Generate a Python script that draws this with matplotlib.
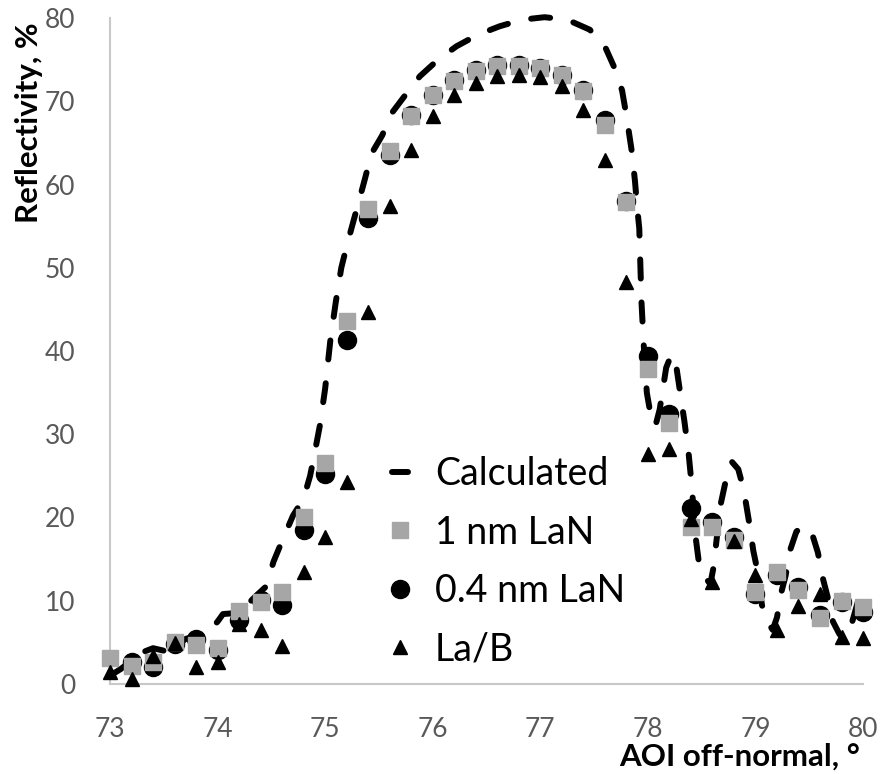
import matplotlib.pyplot as plt
from matplotlib.lines import Line2D
import numpy as np

# angle of incidence, degrees
aoi = [73.0, 73.2, 73.4, 73.6, 73.8, 74.0, 74.2, 74.4, 74.6, 74.8, 75.0, 75.2,
       75.4, 75.6, 75.8, 76.0, 76.2, 76.4, 76.6, 76.8, 77.0, 77.2, 77.4, 77.6,
       77.8, 78.0, 78.2, 78.4, 78.6, 78.8, 79.0, 79.2, 79.4, 79.6, 79.8, 80.0]

lan_1nm = [3.1, 2.2, 2.7, 5.0, 4.7, 4.3, 8.8, 9.8, 11.1, 20.1, 26.6, 43.6,
           57.1, 64.0, 68.2, 70.7, 72.4, 73.6, 74.2, 74.2, 74.0, 73.1, 71.2, 67.1,
           57.9, 37.8, 31.4, 18.8, 18.9, 17.3, 11.0, 13.4, 11.3, 7.9, 10.0, 9.2]

lan_04nm = [np.nan, 2.6, 2.0, 4.8, 5.4, 4.1, 7.7, 10.1, 9.5, 18.5, 25.2, 41.3,
            56.0, 63.5, 68.3, 70.8, 72.5, 73.7, 74.3, 74.3, 74.0, 73.2, 71.3, 67.7,
            58.0, 39.4, 32.4, 21.2, 19.4, 17.7, 10.8, 13.1, 11.7, 8.3, 9.9, 8.7]

la_b = [1.4, 0.6, 3.4, 4.9, 2.0, 2.7, 7.2, 6.5, 4.6, 13.5, 17.7, 24.3,
        44.7, 57.4, 64.1, 68.2, 70.7, 72.2, 73.0, 73.1, 72.9, 71.8, 68.9, 62.9,
        48.3, 27.6, 28.2, 19.8, 12.3, 17.2, 13.1, 6.5, 9.4, 10.8, 5.6, 5.5]

# calculated curve
calc_x = [73.0, 73.1, 73.2, 73.3, 73.4, 73.5, 73.56, 73.62, 73.7, 73.8, 73.9, 74.0,
          74.05, 74.15, 74.25, 74.35, 74.45, 74.52, 74.6, 74.7, 74.8, 74.86, 74.9,
          74.95, 75.0, 75.05, 75.1, 75.15, 75.2, 75.25, 75.32, 75.37, 75.43, 75.53,
          75.62, 75.76, 75.88, 76.05, 76.22, 76.42, 76.62, 76.83, 77.04, 77.25,
          77.46, 77.6, 77.69, 77.76, 77.8, 77.85, 77.88, 77.9, 77.92, 77.94, 77.96,
          77.99, 78.03, 78.07, 78.11, 78.14, 78.17, 78.22, 78.26, 78.3, 78.34,
          78.38, 78.41, 78.44, 78.47, 78.52, 78.58, 78.61, 78.64, 78.68, 78.72,
          78.78, 78.84, 78.89, 78.94, 78.98, 79.02, 79.06, 79.11, 79.16, 79.2,
          79.24, 79.28, 79.32, 79.38, 79.44, 79.52, 79.58, 79.63, 79.67, 79.72,
          79.78, 79.83, 79.9, 79.95, 80.0]
calc_y = [1.0, 1.8, 2.8, 3.8, 4.3, 4.0, 3.5, 4.5, 5.4, 5.8, 6.1, 7.5,
          8.4, 8.5, 9.2, 10.5, 11.7, 14.7, 17.2, 20.2, 22.3, 25.0, 27.6,
          31.0, 35.5, 41.5, 46.0, 50.0, 52.6, 55.0, 58.3, 60.7, 63.7, 65.9,
          68.6, 71.0, 73.0, 75.0, 76.6, 78.0, 79.0, 79.8, 80.1, 79.8,
          78.6, 76.6, 74.0, 71.3, 68.3, 64.0, 60.4, 57.3, 54.7, 46.0, 41.0,
          35.0, 32.0, 31.0, 33.0, 35.5, 38.0, 39.6, 38.5, 35.0, 31.5,
          27.5, 23.5, 18.0, 15.0, 13.0, 12.0, 14.0, 17.5, 21.8, 24.2,
          26.7, 25.8, 23.4, 19.5, 16.0, 13.5, 9.5, 7.5, 6.5, 8.0,
          11.0, 13.0, 16.0, 18.3, 19.0, 18.3, 15.8, 12.5, 10.5, 7.5,
          6.0, 5.3, 7.5, 9.8, 12.0]

plt.rcParams['font.family'] = ['Lato', 'DejaVu Sans']

fig = plt.figure(figsize=(8.83, 7.74), dpi=100)
ax = fig.add_axes([0.1246, 0.1163, 0.8528, 0.8604])

ax.plot(calc_x, calc_y, color='black', lw=4.3, linestyle=(0, (3.2, 4.0)),
        dash_capstyle='round', solid_capstyle='round', zorder=1, clip_on=False)
ax.plot(aoi, lan_04nm, 'o', color='black', ms=13, zorder=2, clip_on=False)
ax.plot(aoi, lan_1nm, 's', color='#a6a6a6', ms=11, zorder=3, clip_on=False)
ax.plot(aoi, la_b, '^', color='black', ms=9.5, zorder=4, clip_on=False)

ax.set_xlim(73, 80)
ax.set_ylim(0, 80)
ax.set_xticks(range(73, 81))
ax.set_yticks(range(0, 81, 10))
ax.tick_params(length=0, labelsize=19, colors='#595959')
ax.tick_params(axis='x', pad=24)
ax.tick_params(axis='y', pad=25)
for s in ['top', 'right']:
    ax.spines[s].set_visible(False)
for s in ['left', 'bottom']:
    ax.spines[s].set_color('#c8c8c8')
    ax.spines[s].set_linewidth(1.5)

fig.text(0.033, 0.842, 'Reflectivity, %', fontsize=22.5, fontweight='bold',
         rotation=90, ha='center', va='center')
fig.text(0.974, 0.022, 'AOI off-normal, °', fontsize=22.5, fontweight='bold',
         ha='right', va='center')

handles = [
    Line2D([], [], color='black', lw=4.3, solid_capstyle='round'),
    Line2D([], [], marker='s', color='#a6a6a6', ms=11, linestyle='none'),
    Line2D([], [], marker='o', color='black', ms=13, linestyle='none'),
    Line2D([], [], marker='^', color='black', ms=9.5, linestyle='none'),
]
labels = ['Calculated', '1 nm LaN', '0.4 nm LaN', 'La/B']
ax.legend(handles, labels, loc='upper left', bbox_to_anchor=(0.423, 0.435),
          bbox_transform=fig.transFigure, frameon=False, fontsize=27,
          handlelength=0.42, handletextpad=0.72, labelspacing=0.6,
          borderpad=0)

fig.savefig('out.png', dpi=100)
